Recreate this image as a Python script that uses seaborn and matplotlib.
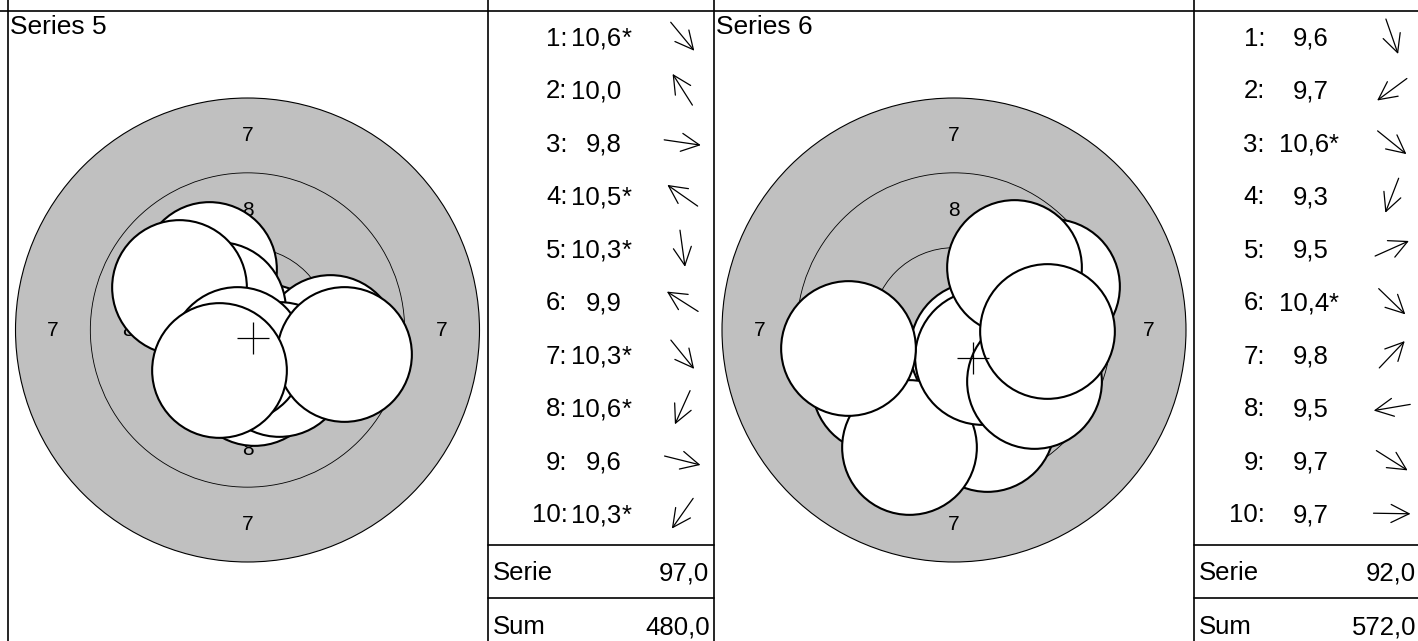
import numpy as np
import matplotlib
matplotlib.use("Agg")
import matplotlib.pyplot as plt
import seaborn as sns
from matplotlib.patches import Circle

# ---- data ----
series_names = ["Series 5", "Series 6"]

# shot scores in shooting order
s5_scores = [10.6, 10.0, 9.8, 10.5, 10.3, 9.9, 10.3, 10.6, 9.6, 10.3]
s6_scores = [9.6, 9.7, 10.6, 9.3, 9.5, 10.4, 9.8, 9.5, 9.7, 9.7]

# inner ten marks (*)
s5_inner = [True, False, False, True, True, False, True, True, False, True]
s6_inner = [False, False, True, False, False, True, False, False, False, False]

# shot centres in mm from the target centre (y up)
s5_x = [0.57, -1.30, 2.75, -1.00, 0.22, -2.28, 1.05, -0.36, 3.21, -0.95]
s5_y = [-0.69, 2.05, -0.40, 0.70, -1.60, 1.45, -1.30, -0.80, -0.80, -1.35]
s6_x = [1.10, -2.50, 0.78, -1.51, 3.29, 0.93, 2.00, -3.53, 2.67, 3.10]
s6_y = [-3.15, -1.85, -0.63, -3.91, 1.47, -0.90, 2.11, -0.60, -1.69, -0.05]

serie_totals = [97.0, 92.0]
running_sums = [480.0, 572.0]

# 10m air rifle target, ring radii in mm
ring_radius = [7.75, 5.25, 2.75, 0.25]
label_rings = ["7", "8"]
label_radius = [6.5, 4.0]
pellet_radius = 2.25

# ---- layout (pixels) ----
W, H = 1418, 641
px_per_mm = 232 / 7.75
half = 240
panel_left = [7.5, 714]
table_w = 226
center_y = 330
colon_off = [80, 71]
value_off = [134, 135]
arrow_off = [195, 198]
row0, row_step = 36.5, 53.0
fs = 18.5


def fmt(v):
    return f"{v:.1f}".replace(".", ",")


sns.set_style("white")
plt.rcParams["font.family"] = ["Liberation Sans", "DejaVu Sans"]
plt.rcParams["text.color"] = "black"

fig = plt.figure(figsize=(W / 100, H / 100), dpi=100)
bg = fig.add_axes([0, 0, 1, 1])
bg.set_xlim(0, W)
bg.set_ylim(H, 0)
bg.axis("off")

lw_grid = 1.2
bg.plot([0, W], [10.5, 10.5], color="black", lw=lw_grid)

panels = [
    (s5_scores, s5_inner, s5_x, s5_y),
    (s6_scores, s6_inner, s6_x, s6_y),
]

lim = half / px_per_mm
for p, (scores, inner, xs, ys) in enumerate(panels):
    left = panel_left[p]
    T = left + 2 * half
    # grid lines
    bg.plot([left, left], [0, H], color="black", lw=lw_grid)
    bg.plot([T, T], [0, H], color="black", lw=lw_grid)
    for yl in (545, 598):
        bg.plot([T, T + table_w], [yl, yl], color="black", lw=lw_grid)

    bg.text(left + 2, 34, series_names[p], ha="left", va="baseline", fontsize=19)

    # shot list with direction arrows
    for i, (v, star, sx, sy) in enumerate(zip(scores, inner, xs, ys)):
        yc = row0 + row_step * i
        bg.text(T + colon_off[p], yc + 9, f"{i + 1}:", ha="right", va="baseline", fontsize=fs)
        bg.text(T + value_off[p], yc + 9, fmt(v), ha="right", va="baseline", fontsize=fs)
        if star:
            bg.text(T + value_off[p], yc + 9, "*", ha="left", va="baseline", fontsize=fs)
        ang = np.arctan2(sy, sx)
        dx, dy = np.cos(ang) * 18.5, -np.sin(ang) * 18.5
        ax_c = T + arrow_off[p]
        bg.annotate("", xy=(ax_c + dx, yc + dy), xytext=(ax_c - dx, yc - dy),
                    arrowprops=dict(arrowstyle="->,head_length=1.3,head_width=0.65",
                                    lw=0.9, color="black", mutation_scale=10,
                                    shrinkA=0, shrinkB=0))

    bg.text(T + 5, 580.5, "Serie", ha="left", va="baseline", fontsize=fs)
    bg.text(T + 222, 580.5, fmt(serie_totals[p]), ha="right", va="baseline", fontsize=fs)
    bg.text(T + 5, 634, "Sum", ha="left", va="baseline", fontsize=fs)
    bg.text(T + 222, 634, fmt(running_sums[p]), ha="right", va="baseline", fontsize=fs)

    # target
    ax = fig.add_axes([left / W, (H - center_y - half) / H, 2 * half / W, 2 * half / H])
    ax.set_xlim(-lim, lim)
    ax.set_ylim(-lim, lim)
    ax.set_aspect("equal")
    ax.axis("off")
    ax.patch.set_alpha(0)

    ax.add_patch(Circle((0, 0), ring_radius[0], facecolor="#c0c0c0",
                        edgecolor="black", lw=0.8, zorder=1))
    for r in ring_radius[1:]:
        ax.add_patch(Circle((0, 0), r, facecolor="none", edgecolor="black",
                            lw=0.6, zorder=2))
    for lab, r in zip(label_rings, label_radius):
        for (ux, uy) in [(0, 1), (0, -1), (-1, 0), (1, 0)]:
            ax.text(ux * r, uy * r, lab, ha="center", va="center",
                    fontsize=15, zorder=3)

    diam_pt = 2 * pellet_radius * px_per_mm * 72 / 100
    sns.scatterplot(x=xs, y=ys, s=diam_pt ** 2, color="white",
                    edgecolor="black", linewidth=1.5, ax=ax, zorder=5,
                    legend=False)
    ax.plot(np.mean(xs), np.mean(ys), marker="+", ms=22.5, mew=0.9,
            color="black", zorder=6)
    ax.set_xlim(-lim, lim)
    ax.set_ylim(-lim, lim)
    ax.axis("off")

fig.savefig("out.png", dpi=100)
